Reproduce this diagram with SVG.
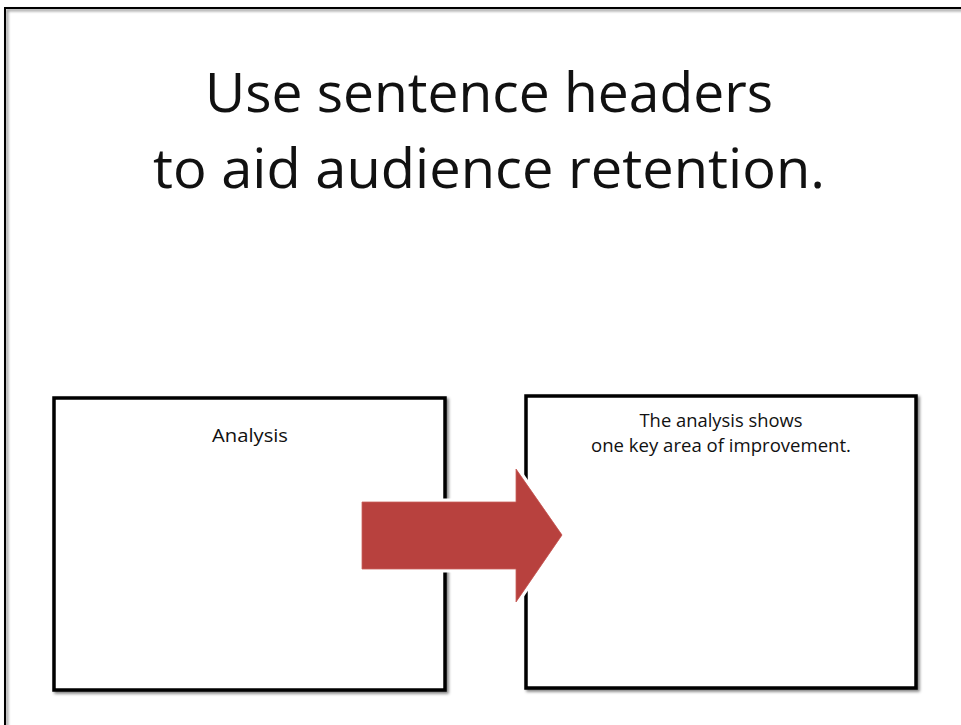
<svg xmlns="http://www.w3.org/2000/svg" width="961" height="725" viewBox="0 0 961 725">
<defs>
<filter id="sh" x="-10%" y="-10%" width="130%" height="130%">
<feGaussianBlur in="SourceAlpha" stdDeviation="1.5"/>
<feOffset dx="2" dy="2" result="b"/>
<feComponentTransfer><feFuncA type="linear" slope="0.5"/></feComponentTransfer>
<feMerge><feMergeNode/><feMergeNode in="SourceGraphic"/></feMerge>
</filter>
</defs>
<style>
.t{font-family:"Open Sans","Noto Sans","Liberation Sans",sans-serif;fill:#111;text-anchor:middle}
.box{fill:#fff;stroke:#000;stroke-width:3.5}
</style>
<rect width="961" height="725" fill="#fff"/>
<g id="frame">
<rect x="5" y="8" width="1000" height="1000" fill="none" stroke="#000" stroke-width="2" filter="url(#sh)"/>
</g>
<g id="title">
<text class="t" x="489" y="112" font-size="54" textLength="568" lengthAdjust="spacingAndGlyphs">Use sentence headers</text>
<text class="t" x="489" y="188" font-size="54" textLength="672" lengthAdjust="spacingAndGlyphs">to aid audience retention.</text>
</g>
<g id="node-analysis">
<rect class="box" x="54" y="398" width="391" height="292" filter="url(#sh)"/>
<text class="t" x="250" y="442" font-size="19" textLength="76" lengthAdjust="spacingAndGlyphs">Analysis</text>
</g>
<g id="node-sentence">
<rect class="box" x="526" y="396" width="390" height="292" filter="url(#sh)"/>
<text class="t" x="721" y="427" font-size="18" textLength="163" lengthAdjust="spacingAndGlyphs">The analysis shows</text>
<text class="t" x="721" y="452" font-size="18" textLength="260" lengthAdjust="spacingAndGlyphs">one key area of improvement.</text>
</g>
<g id="connectors">
<polygon points="362,502 516,502 516,469 562,535 516,602 516,569 362,569" fill="#b8413e" stroke="#fff" stroke-width="7" stroke-linejoin="miter" paint-order="stroke"/>
<polygon points="362,502 516,502 516,469 562,535 516,602 516,569 362,569" fill="#b8413e" stroke="#c9605c" stroke-width="0.8"/>
</g>
</svg>
